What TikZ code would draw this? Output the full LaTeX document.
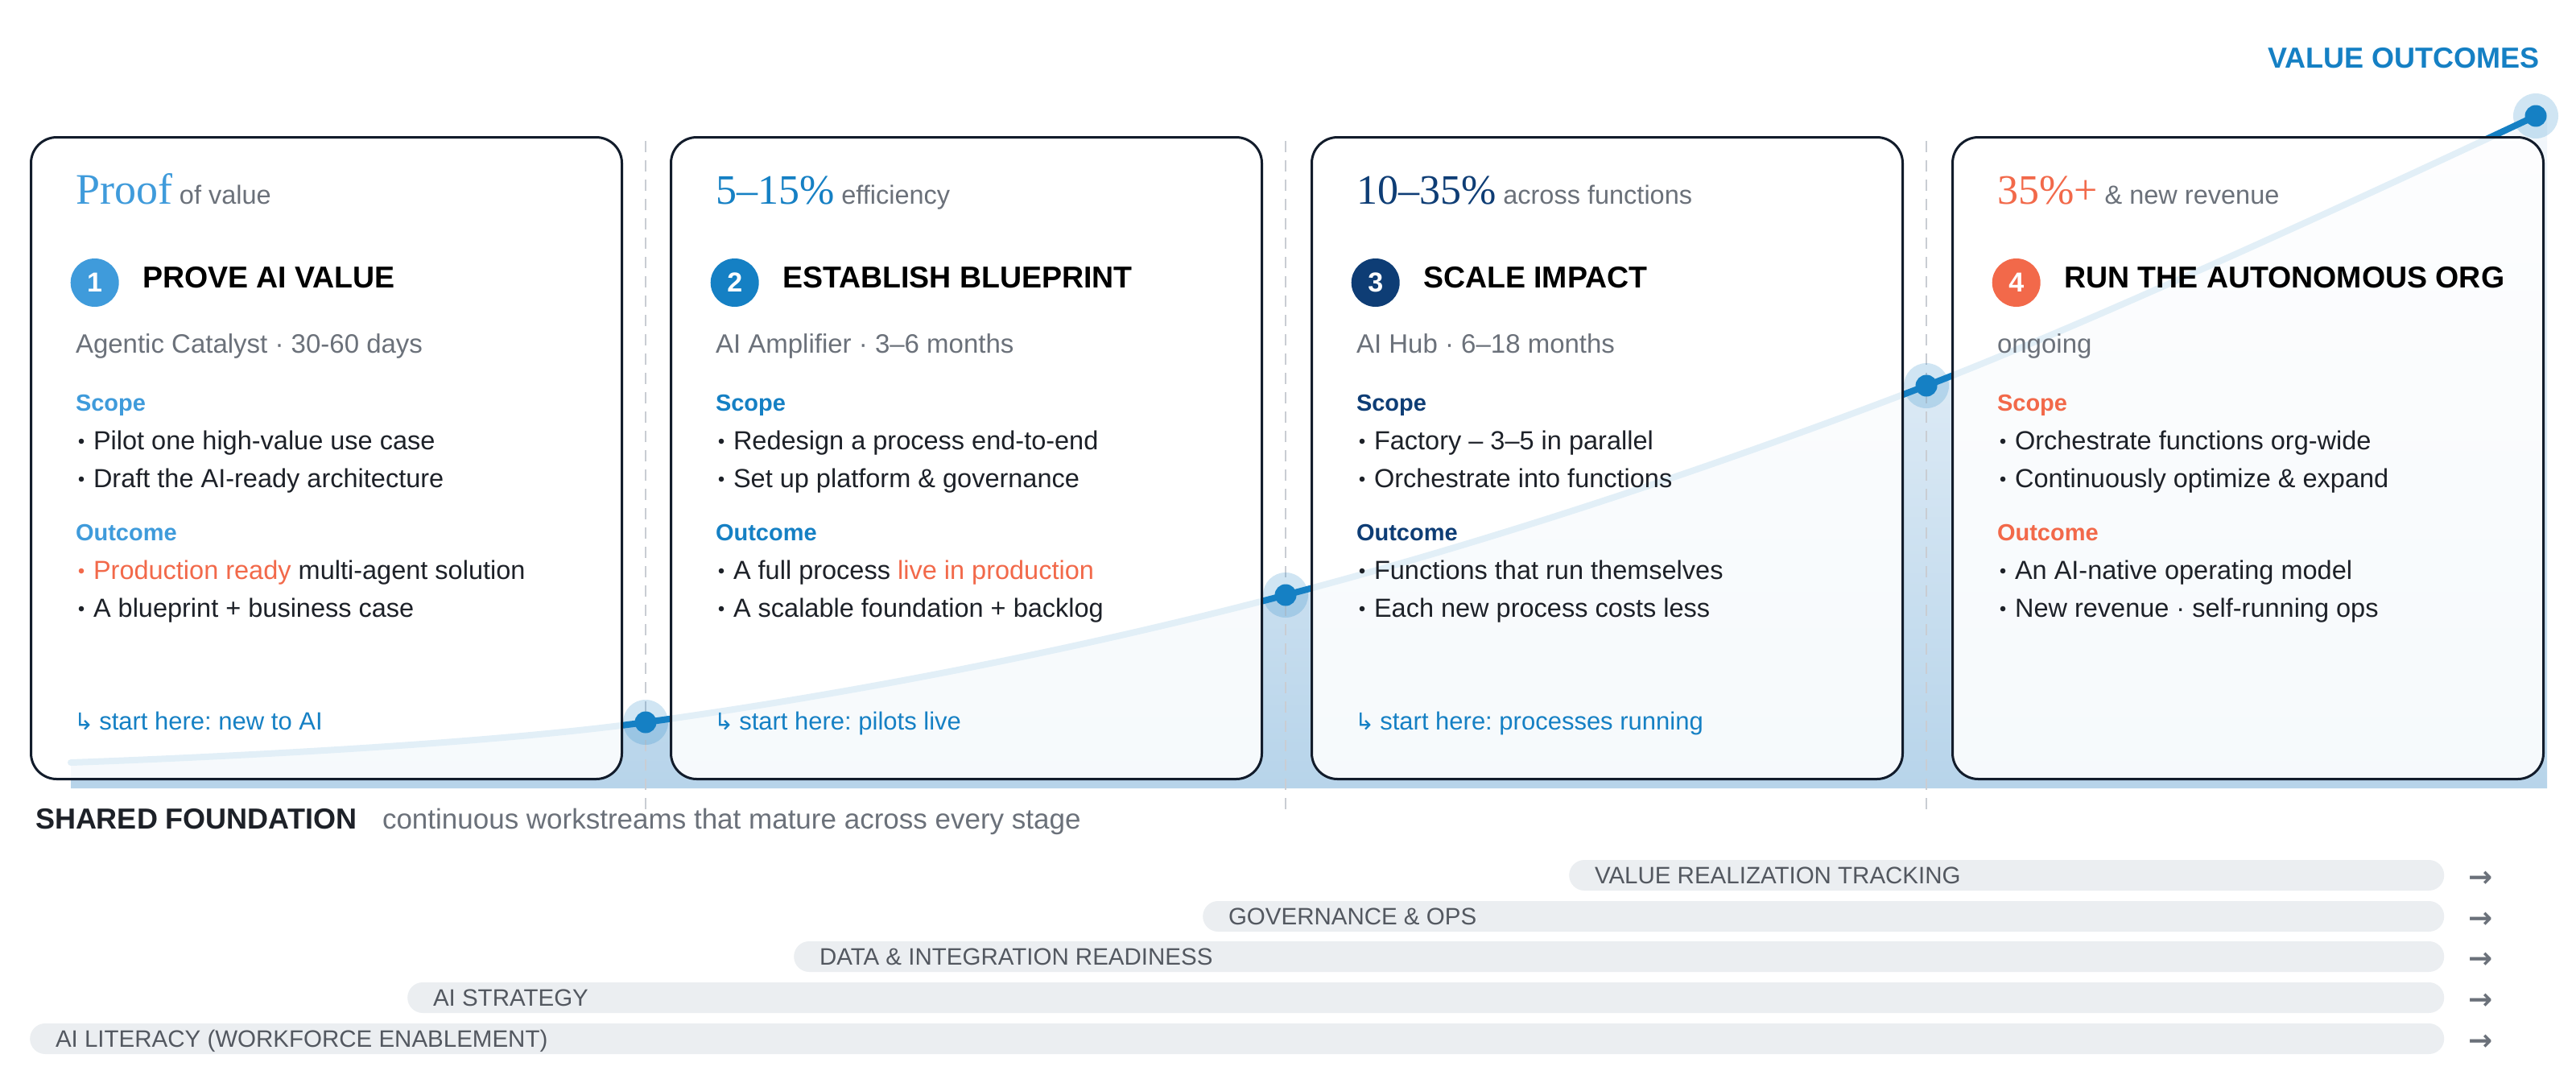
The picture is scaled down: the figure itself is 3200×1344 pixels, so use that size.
\documentclass[tikz,border=0pt]{standalone}
\usepackage{fontspec}
\usepackage{graphicx}
\setmainfont{Liberation Sans}
\newfontfamily\serifface{Liberation Serif}
\newfontfamily\symface{DejaVu Sans}
\definecolor{cA}{HTML}{3F9BDB}
\definecolor{cB}{HTML}{1580C4}
\definecolor{cC}{HTML}{0E3D75}
\definecolor{cD}{HTML}{F2694A}
\definecolor{gry}{HTML}{6B717A}
\definecolor{ink}{HTML}{1D2128}
\definecolor{border}{HTML}{121C2B}
\definecolor{dashc}{HTML}{C9CDD3}
\definecolor{barfill}{HTML}{EBEEF1}
\definecolor{bartext}{HTML}{535860}
\definecolor{fillTop}{HTML}{F4F8FC}
\definecolor{fillBot}{HTML}{B7D4EA}
\newcommand\fsz[1]{\fontsize{#1}{#1}\selectfont}
% bullet item: #1 name, #2 baseline, #3 dot colour, #4 text
\newcommand\bitem[4]{%
  \fill[#3] (64,#2-10) circle[radius=3.3pt];
  \node[txt, font=\fsz{32.5}, text=ink] (#1) at (79,#2) {#4};}
\newcommand\hookarrow{{\symface\fsz{29}↳}\hspace{7pt}}
\frenchspacing
\begin{document}
\frenchspacing
\begin{tikzpicture}[x=1pt,y=-1pt,
  txt/.style={inner sep=0pt, outer sep=0pt, anchor=base west},
  cardbox/.style={draw=border, line width=3pt, rounded corners=32pt, fill=white, fill opacity=0.88,
    minimum width=734pt, minimum height=797pt, anchor=north west, inner sep=0pt},
  numc/.style={circle, minimum size=60pt, inner sep=0pt, text=white, font=\bfseries\fsz{34}},
  ttl/.style={txt, font=\bfseries\fsz{37.5}, text=black},
  sub/.style={txt, font=\fsz{33}, text=gry},
  lbl/.style={txt, font=\bfseries\fsz{29}},
  starthere/.style={txt, font=\fsz{31}, text=cB},
  dashline/.style={draw=dashc, line width=2pt, dash pattern=on 14pt off 10pt},
  curveline/.style={draw=cB, line width=8pt, line cap=round},
  halo/.style={circle, fill=cB, fill opacity=0.2, minimum size=56pt, inner sep=0pt},
  dotc/.style={circle, fill=cB, minimum size=27pt, inner sep=0pt},
  barbox/.style={fill=barfill, rounded corners=19pt, minimum height=38pt, anchor=west, inner sep=0pt},
  bartxt/.style={txt, font=\fsz{29.5}, text=bartext},
  arr/.style={inner sep=0pt, anchor=base, font=\symface\bfseries\fsz{36}, text=gry}
]
\fill[white] (0,0) rectangle (3200,1344);
\path[use as bounding box] (0,0) rectangle (3200,1344);

% area under the value curve
\shade[top color=fillTop, bottom color=fillBot]
  plot[smooth, tension=0.6] coordinates {(88,947) (802,897) (1597,739) (2393,479) (3150,144)}
  -- (3164,140) -- (3164,979) -- (88,979) -- cycle;

% stage dividers
\coordinate (dv1a) at (802,175);  \coordinate (dv1b) at (802,1014);
\coordinate (dv2a) at (1597,175); \coordinate (dv2b) at (1597,1014);
\coordinate (dv3a) at (2393,175); \coordinate (dv3b) at (2393,1014);
\draw[dashline] (dv1a) -- (dv1b);
\draw[dashline] (dv2a) -- (dv2b);
\draw[dashline] (dv3a) -- (dv3b);

% halos
\node[halo] (h1) at (802,897) {};
\node[halo] (h2) at (1597,739) {};
\node[halo] (h3) at (2393,479) {};
\node[halo] (h4) at (3150,144) {};

% curve
\draw[curveline] plot[smooth, tension=0.6] coordinates {(88,947) (802,897) (1597,739) (2393,479) (3150,144)};

% dots
\node[dotc] (d1) at (802,897) {};
\node[dotc] (d2) at (1597,739) {};
\node[dotc] (d3) at (2393,479) {};
\node[dotc] (d4) at (3150,144) {};

% cards
\node[cardbox] (card1) at (37,169) {};
\node[cardbox] (card2) at (832,169) {};
\node[cardbox] (card3) at (1628,169) {};
\node[cardbox] (card4) at (2424,169) {};

% ---------- card 1
\begin{scope}[xshift=37pt]
\node[txt] (hl1) at (57,253) {{\serifface\fsz{54}\color{cA}Proof}\hspace{9pt}{\fsz{32.5}\color{gry}of value}};
\node[numc, fill=cA] (n1) at (80.7,351) {1};
\node[ttl] (t1) at (140,357) {PROVE AI VALUE};
\node[sub] (s1) at (57,438) {Agentic Catalyst · 30-60 days};
\node[lbl, text=cA] (sc1) at (57,510) {Scope};
\bitem{b11}{558}{ink}{Pilot one high-value use case}
\bitem{b12}{605}{ink}{Draft the AI-ready architecture}
\node[lbl, text=cA] (oc1) at (57,671) {Outcome};
\bitem{b13}{719}{cD}{{\color{cD}Production ready} multi-agent solution}
\bitem{b14}{766}{ink}{A blueprint + business case}
\node[starthere] (st1) at (55,906) {\hookarrow start here: new to AI};
\end{scope}

% ---------- card 2
\begin{scope}[xshift=832pt]
\node[txt] (hl2) at (57,253) {{\serifface\fsz{52}\color{cB}5–15\%}\hspace{9pt}{\fsz{32.5}\color{gry}efficiency}};
\node[numc, fill=cB] (n2) at (80.7,351) {2};
\node[ttl] (t2) at (140,357) {ESTABLISH BLUEPRINT};
\node[sub] (s2) at (57,438) {AI Amplifier · 3–6 months};
\node[lbl, text=cB] (sc2) at (57,510) {Scope};
\bitem{b21}{558}{ink}{Redesign a process end-to-end}
\bitem{b22}{605}{ink}{Set up platform \& governance}
\node[lbl, text=cB] (oc2) at (57,671) {Outcome};
\bitem{b23}{719}{ink}{A full process {\color{cD}live in production}}
\bitem{b24}{766}{ink}{A scalable foundation + backlog}
\node[starthere] (st2) at (55,906) {\hookarrow start here: pilots live};
\end{scope}

% ---------- card 3
\begin{scope}[xshift=1628pt]
\node[txt] (hl3) at (57,253) {{\serifface\fsz{52}\color{cC}10–35\%}\hspace{9pt}{\fsz{32.5}\color{gry}across functions}};
\node[numc, fill=cC] (n3) at (80.7,351) {3};
\node[ttl] (t3) at (140,357) {SCALE IMPACT};
\node[sub] (s3) at (57,438) {AI Hub · 6–18 months};
\node[lbl, text=cC] (sc3) at (57,510) {Scope};
\bitem{b31}{558}{ink}{Factory – 3–5 in parallel}
\bitem{b32}{605}{ink}{Orchestrate into functions}
\node[lbl, text=cC] (oc3) at (57,671) {Outcome};
\bitem{b33}{719}{ink}{Functions that run themselves}
\bitem{b34}{766}{ink}{Each new process costs less}
\node[starthere] (st3) at (55,906) {\hookarrow start here: processes running};
\end{scope}

% ---------- card 4
\begin{scope}[xshift=2424pt]
\node[txt] (hl4) at (57,253) {{\serifface\fsz{52}\color{cD}35\%+}\hspace{9pt}{\fsz{32.5}\color{gry}\& new revenue}};
\node[numc, fill=cD] (n4) at (80.7,351) {4};
\node[ttl] (t4) at (140,357) {RUN THE AUTONOMOUS ORG};
\node[sub] (s4) at (57,438) {ongoing};
\node[lbl, text=cD] (sc4) at (57,510) {Scope};
\bitem{b41}{558}{ink}{Orchestrate functions org-wide}
\bitem{b42}{605}{ink}{Continuously optimize \& expand}
\node[lbl, text=cD] (oc4) at (57,671) {Outcome};
\bitem{b43}{719}{ink}{An AI-native operating model}
\bitem{b44}{766}{ink}{New revenue · self-running ops}
\end{scope}

% value outcomes label
\node[inner sep=0pt, anchor=base east, font=\bfseries\fsz{36}, text=cB] (vo) at (3155,84) {VALUE OUTCOMES};

% shared foundation
\node[txt, font=\bfseries\fsz{36}, text=ink] (sf) at (44,1029) {SHARED FOUNDATION};
\node[txt, font=\fsz{35}, text=gry] (sfd) at (475,1029) {continuous workstreams that mature across every stage};

% workstream bars
\node[barbox, minimum width=1087pt] (w1) at (1949,1087) {};
\node[barbox, minimum width=1542pt] (w2) at (1494,1138) {};
\node[barbox, minimum width=2050pt] (w3) at (986,1188) {};
\node[barbox, minimum width=2530pt] (w4) at (506,1239) {};
\node[barbox, minimum width=2999pt] (w5) at (37,1290) {};
\node[bartxt] (wl1) at (1981,1097.5) {VALUE REALIZATION TRACKING};
\node[bartxt] (wl2) at (1526,1148.5) {GOVERNANCE \& OPS};
\node[bartxt] (wl3) at (1018,1198.5) {DATA \& INTEGRATION READINESS};
\node[bartxt] (wl4) at (538,1249.5) {AI STRATEGY};
\node[bartxt] (wl5) at (69,1300.5) {AI LITERACY (WORKFORCE ENABLEMENT)};
\node[arr] (a1) at (3082,1101) {→};
\node[arr] (a2) at (3082,1152) {→};
\node[arr] (a3) at (3082,1202) {→};
\node[arr] (a4) at (3082,1253) {→};
\node[arr] (a5) at (3082,1304) {→};
\end{tikzpicture}
\end{document}
